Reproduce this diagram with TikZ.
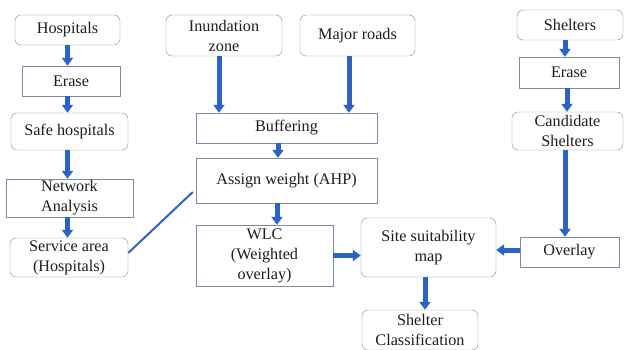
\documentclass[tikz,border=0pt]{standalone}
\usepackage{fontspec}
\setmainfont{Liberation Serif}
\newfontfamily\boxfont{Liberation Serif}
\usetikzlibrary{arrows.meta}
\definecolor{arrblue}{RGB}{45,100,195}
\definecolor{boxline}{RGB}{125,140,165}
\definecolor{txtgray}{RGB}{30,30,30}
\tikzset{
    rbox/.style={draw=boxline, rounded corners=6pt, align=center, inner sep=0pt, text=txtgray, font=\boxfont\fontsize{16.2}{20}\selectfont},
    sbox/.style={draw=boxline, align=center, inner sep=0pt, text=txtgray, font=\boxfont\fontsize{16.2}{20}\selectfont},
    arr/.style={draw=arrblue, line width=5pt, -{Triangle[width=11pt,length=8pt]}},
    link/.style={draw=arrblue, line width=2pt}
}
\begin{document}
\begin{tikzpicture}[x=1pt, y=-1pt]
    \useasboundingbox[fill=white] (0,0) rectangle (624,349);
    % left column
    \node[rbox, minimum width=105pt, minimum height=30pt] (hosp) at (67.5,30) {Hospitals};
    \node[sbox, minimum width=98pt, minimum height=30pt] (erasea) at (71,81) {Erase};
    \node[rbox, minimum width=117pt, minimum height=37pt] (safe) at (69.5,131.5) {Safe hospitals};
    \node[sbox, minimum width=127pt, minimum height=38pt] (network) at (69.5,198) {Network\\Analysis};
    \node[rbox, minimum width=118pt, minimum height=39pt] (service) at (69,257.5) {Service area\\(Hospitals)};
    % middle
    \node[rbox, minimum width=116pt, minimum height=41pt] (inund) at (224,35.5) {Inundation\\zone};
    \node[rbox, minimum width=115pt, minimum height=41pt] (roads) at (357.5,35.5) {Major roads};
    \node[sbox, minimum width=181pt, minimum height=30pt] (buff) at (286.5,128) {Buffering};
    \node[sbox, minimum width=181pt, minimum height=45pt] (assign) at (286.5,180.5) {Assign weight (AHP)};
    \node[sbox, minimum width=137pt, minimum height=61pt] (wlc) at (264.5,255.5) {WLC\\(Weighted\\overlay)};
    \node[rbox, minimum width=135pt, minimum height=59pt] (site) at (428.5,247.5) {Site suitability\\map};
    \node[rbox, minimum width=116pt, minimum height=40pt] (shelcl) at (420,330) {Shelter\\Classification};
    % right column
    \node[rbox, minimum width=106pt, minimum height=30pt] (shel) at (570,25) {Shelters};
    \node[sbox, minimum width=100pt, minimum height=31pt] (eraseb) at (569,72.5) {Erase};
    \node[rbox, minimum width=111pt, minimum height=38pt] (cand) at (567.5,131) {Candidate\\Shelters};
    \node[sbox, minimum width=99pt, minimum height=30pt] (overlay) at (569.5,252) {Overlay};

    \draw[arr] (hosp.south) -- (hosp.south |- erasea.north);
    \draw[arr] (hosp.south |- erasea.south) -- (hosp.south |- safe.north);
    \draw[arr] (hosp.south |- safe.south) -- (hosp.south |- network.north);
    \draw[arr] (hosp.south |- network.south) -- (hosp.south |- service.north);
    \draw[link] ([yshift=4.5pt]service.east) -- ([xshift=-3pt, yshift=-11.5pt]assign.west);

    \draw[arr] ([xshift=-5pt]inund.south) -- ([xshift=-5pt]inund.south |- buff.north);
    \draw[arr] ([xshift=-8.5pt]roads.south) -- ([xshift=-8.5pt]roads.south |- buff.north);
    \draw[arr] ([xshift=-8.5pt]buff.south) -- ([xshift=-8.5pt]buff.south |- assign.north);
    \draw[arr] ([xshift=-9.5pt]assign.south) -- ([xshift=-9.5pt]assign.south |- wlc.north);
    \draw[arr] (wlc.east) -- (wlc.east -| site.west);
    \draw[arr] ([xshift=-3.5pt]site.south) -- ([xshift=-3.5pt]site.south |- shelcl.north);

    \draw[arr] ([xshift=-5pt]shel.south) -- ([xshift=-5pt]shel.south |- eraseb.north);
    \draw[arr] ([xshift=-2pt]eraseb.south) -- ([xshift=-2pt]eraseb.south |- cand.north);
    \draw[arr] ([xshift=-2.5pt]cand.south) -- ([xshift=-2.5pt]cand.south |- overlay.north);
    \draw[arr] ([yshift=2pt]overlay.west) -- ([yshift=2pt]overlay.west -| site.east);
\end{tikzpicture}
\end{document}
